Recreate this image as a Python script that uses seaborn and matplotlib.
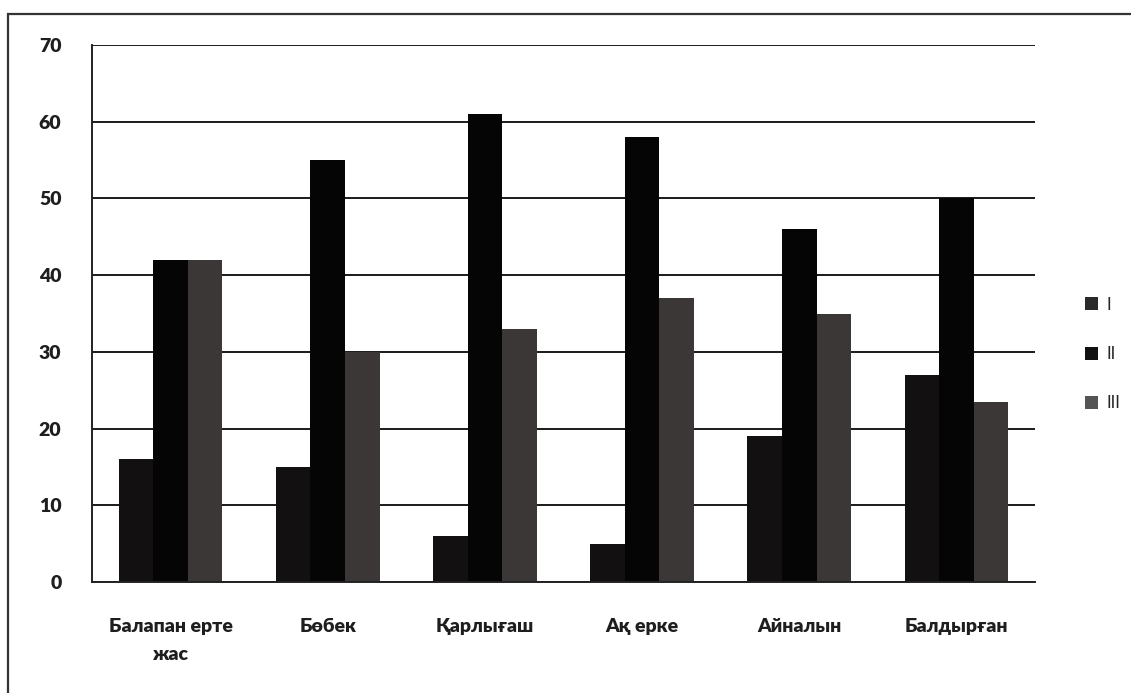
import matplotlib
matplotlib.use("Agg")
import matplotlib.pyplot as plt
import seaborn as sns
import pandas as pd
from matplotlib.patches import Rectangle, Patch

categories = ["Балапан ерте\nжас", "Бөбек", "Қарлығаш", "Ақ ерке", "Айналын", "Балдырған"]
series_names = ["I", "II", "III"]
values_I = [16, 15, 6, 5, 19, 27]
values_II = [42, 55, 61, 58, 46, 50]
values_III = [42, 30, 33, 37, 35, 23.5]
colors = ["#121010", "#050505", "#3c3737"]
y_ticks = [0, 10, 20, 30, 40, 50, 60, 70]

rows = []
for name, vals in zip(series_names, [values_I, values_II, values_III]):
    for c, v in zip(categories, vals):
        rows.append({"category": c, "series": name, "value": v})
df = pd.DataFrame(rows)

sns.set_style("white")
plt.rcParams["font.family"] = ["Lato", "DejaVu Sans"]

fig = plt.figure(figsize=(11.31, 6.93), dpi=100)
ax = fig.add_axes([92 / 1131, 1 - 582 / 693, (1035 - 92) / 1131, (582 - 45) / 693])

sns.barplot(data=df, x="category", y="value", hue="series", palette=colors,
            width=0.66, ax=ax, legend=False, saturation=1, edgecolor="none")

ax.set_ylim(0, 70)
ax.set_xlim(-0.5, len(categories) - 0.5)
ax.set_yticks(y_ticks)
ax.set_yticklabels([str(t) for t in y_ticks], fontsize=14, fontweight="heavy", color="#1e1e1e")
ax.set_xticks(range(len(categories)))
ax.set_xticklabels(categories, fontsize=14, fontweight="heavy", color="#1e1e1e",
                   linespacing=1.75)
ax.set_xticks([i - 0.5 for i in range(len(categories) + 1)], minor=True)
ax.tick_params(axis="x", which="major", length=0, pad=26)
ax.tick_params(axis="x", which="minor", length=6, width=1.2, color="#222222", direction="out")
ax.tick_params(axis="y", which="major", length=6, width=1.2, color="#222222", direction="out", pad=16)
ax.set_xlabel("")
ax.set_ylabel("")

ax.yaxis.grid(True, color="#1a1a1a", linewidth=1.4)
ax.set_axisbelow(True)
for s in ["top", "right"]:
    ax.spines[s].set_visible(False)
for s in ["left", "bottom"]:
    ax.spines[s].set_visible(True)
    ax.spines[s].set_color("#222222")
    ax.spines[s].set_linewidth(1.4)

handles = [Patch(facecolor=c, edgecolor="none", label=n) for c, n in zip(["#2a2a2a", "#111111", "#555555"], series_names)]
fig.legend(handles=handles, loc="center left", bbox_to_anchor=(1070 / 1131, 1 - 354 / 693),
           frameon=False, fontsize=12, handlelength=0.8, handleheight=0.8,
           handletextpad=0.5, labelspacing=2.0)

fig.add_artist(Rectangle((8 / 1131, -0.2), 1.3, 1.2 - 14 / 693, transform=fig.transFigure,
                         fill=False, edgecolor="#333333", linewidth=1.6))

fig.savefig("out.png", dpi=100, facecolor="white")
